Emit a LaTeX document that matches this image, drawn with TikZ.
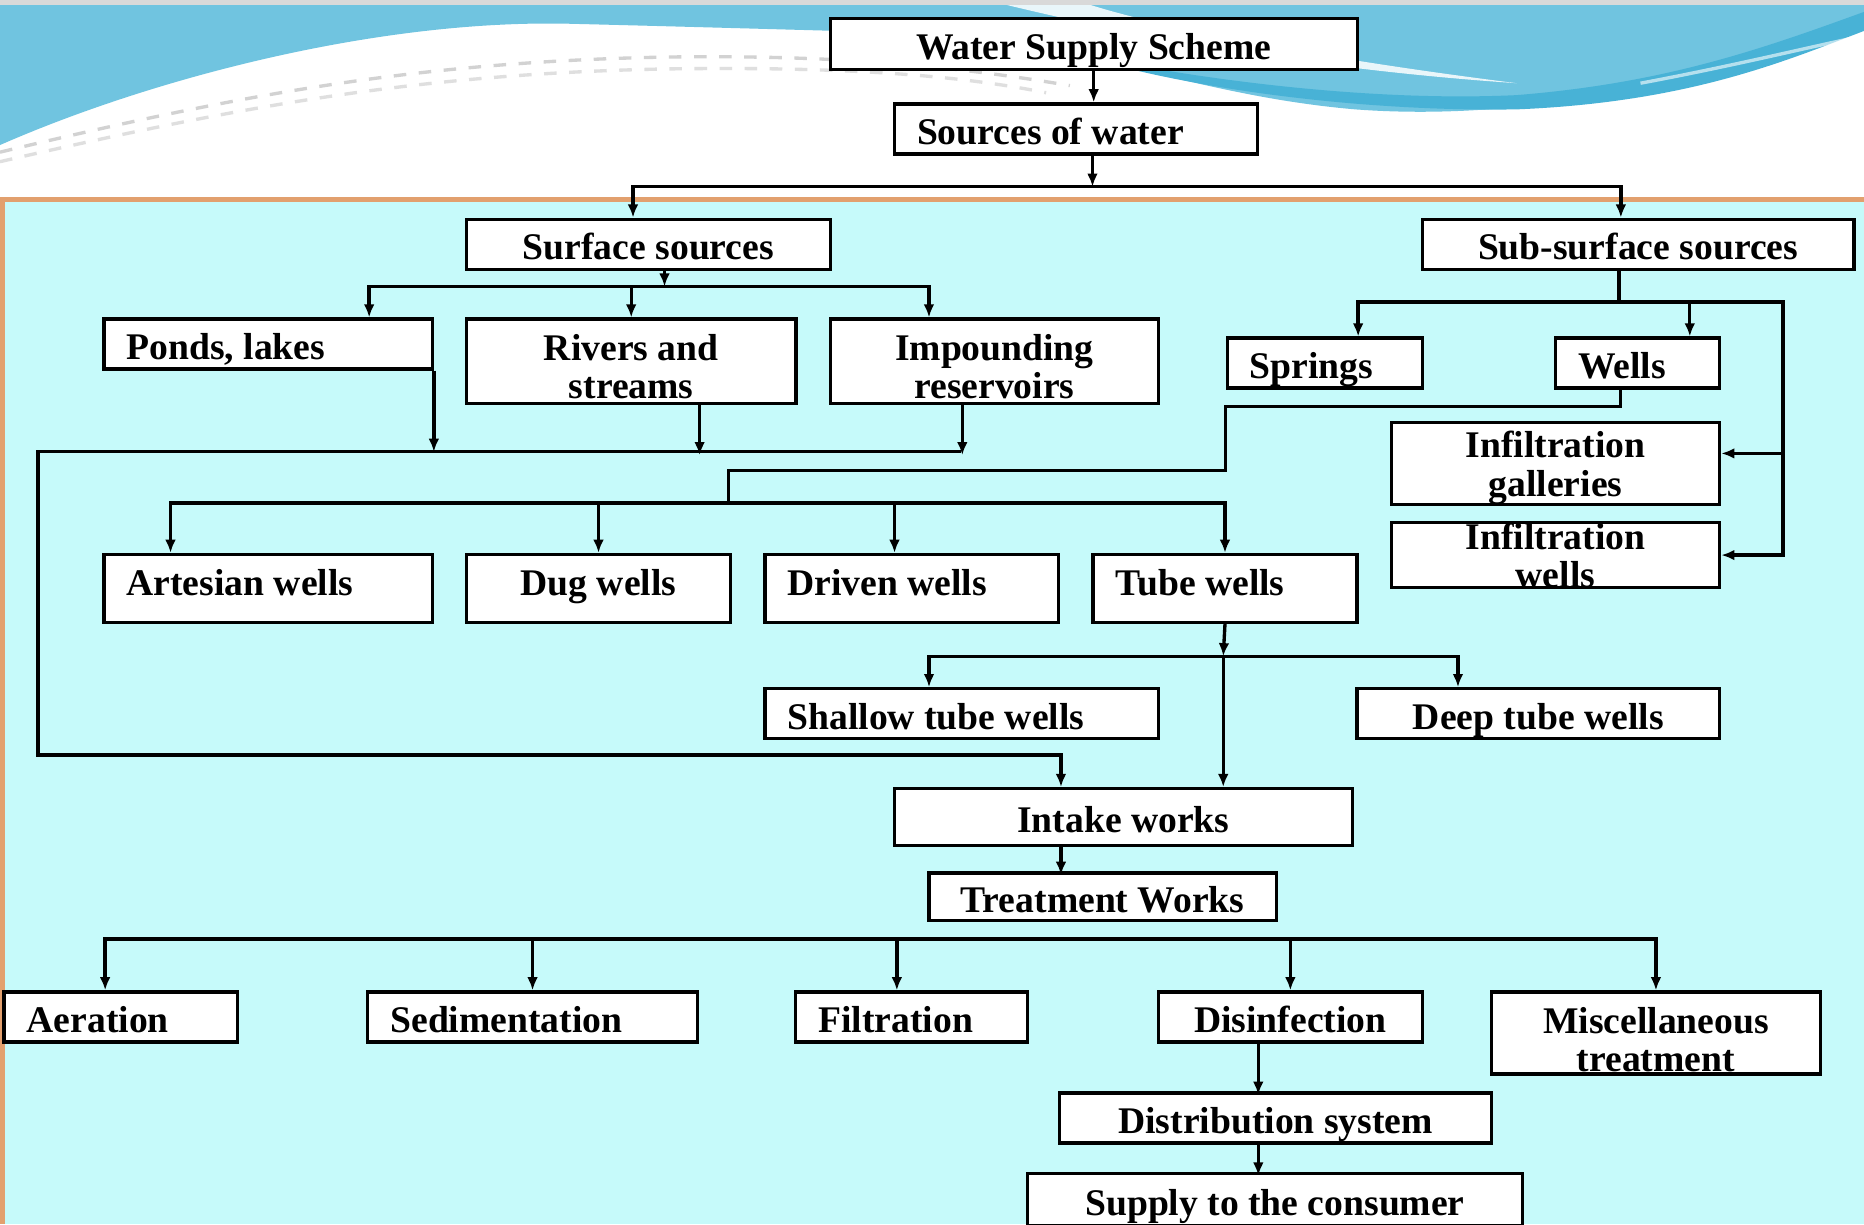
\documentclass[tikz,border=0pt]{standalone}
\usepackage{fontspec}
\setmainfont{Liberation Serif}
\usetikzlibrary{arrows.meta}
\definecolor{panel}{RGB}{198,250,250}
\definecolor{skyblue}{RGB}{112,196,224}
\definecolor{skydark}{RGB}{72,178,214}
\definecolor{rim}{RGB}{226,160,110}

\begin{document}
\begin{tikzpicture}[x=0.01cm, y=-0.01cm, thick, >={Latex[length=1.1mm,width=0.9mm]},
    main/.style = {draw, fill=white, anchor=north west, inner xsep=0.19cm, inner ysep=0pt, align=center, text height=8.4pt, text depth=1pt, font=\bfseries\fontsize{9}{9.2}\selectfont},
    lmain/.style = {main, align=flush left},
    tall/.style = {text height=6pt, text depth=2.8pt}]
    \useasboundingbox (0,0) rectangle (1568,1030);

    % background
    \fill[white] (0,0) rectangle (1568,168);
    \fill[skyblue] (0,0) -- (0,122) .. controls (130,65) and (320,16) .. (480,20) .. controls (600,23) and (700,26) .. (780,28) .. controls (900,32) and (1000,80) .. (1140,92) .. controls (1300,104) and (1450,60) .. (1568,24) -- (1568,0) -- cycle;
    \fill[skydark] (1568,10) .. controls (1480,42) and (1400,70) .. (1276,80) .. controls (1150,86) and (1000,66) .. (900,44) .. controls (1000,76) and (1150,94) .. (1276,92) .. controls (1420,86) and (1500,52) .. (1568,26) -- cycle;
    \fill[white, opacity=0.85] (830,0) .. controls (950,30) and (1100,58) .. (1276,70) .. controls (1100,48) and (960,20) .. (905,0) -- cycle;
    \draw[white, opacity=0.6] (1380,70) .. controls (1460,55) and (1520,40) .. (1568,30);
    \draw[gray!35, dashed] (0,128) .. controls (200,80) and (350,52) .. (560,48) .. controls (700,46) and (800,55) .. (900,72);
    \draw[gray!25, dashed] (0,136) .. controls (200,90) and (350,62) .. (560,58) .. controls (700,56) and (800,62) .. (880,78);
    \fill[gray!30] (0,0) rectangle (1568,4);
    \fill[panel] (0,168) rectangle (1568,1030);
    \draw[rim, line width=1.2pt] (0,168) -- (1568,168);
    \fill[rim] (0,168) rectangle (4,1030);

    % boxes
    \node[main, minimum width=4.43cm, minimum height=0.43cm] (wss) at (697,14) {Water Supply Scheme};
    \node[lmain, text width=2.67cm, minimum height=0.42cm] (src) at (751,86) {Sources of water};
    \node[main, minimum width=3.06cm, minimum height=0.42cm] (surf) at (391,183) {Surface sources};
    \node[main, minimum width=3.63cm, minimum height=0.42cm] (sub) at (1195,183) {Sub-surface sources};
    \node[lmain, text width=2.38cm, minimum height=0.42cm] (ponds) at (86,267) {Ponds, lakes};
    \node[main, minimum width=2.77cm, minimum height=0.71cm, text height=0.67cm, text depth=0.04cm] (rivers) at (391,267) {Rivers and\\streams};
    \node[main, minimum width=2.76cm, minimum height=0.71cm, text height=0.67cm, text depth=0.04cm] (impound) at (697,267) {Impounding\\reservoirs};
    \node[lmain, text width=1.26cm, minimum height=0.42cm] (springs) at (1031,283) {Springs};
    \node[lmain, text width=1.00cm, minimum height=0.42cm] (wells) at (1307,283) {Wells};
    \node[main, minimum width=2.76cm, minimum height=0.69cm, text height=0.62cm, text depth=0.07cm] (galleries) at (1169,354) {Infiltration\\galleries};
    \node[main, minimum width=2.76cm, minimum height=0.55cm, text height=0.55cm, text depth=0cm] (infwells) at (1169,438) {Infiltration\\wells};
    \node[lmain, tall, text width=2.38cm, minimum height=0.57cm] (artesian) at (86,465) {Artesian wells};
    \node[main, tall, minimum width=2.22cm, minimum height=0.57cm] (dug) at (391,465) {Dug wells};
    \node[lmain, tall, text width=2.09cm, minimum height=0.57cm] (driven) at (642,465) {Driven wells};
    \node[lmain, tall, text width=1.84cm, minimum height=0.57cm] (tube) at (918,465) {Tube wells};
    \node[lmain, text width=2.93cm, minimum height=0.42cm] (shallow) at (642,578) {Shallow tube wells};
    \node[main, minimum width=3.05cm, minimum height=0.42cm] (deep) at (1140,578) {Deep tube wells};
    \node[main, minimum width=3.85cm, minimum height=0.48cm] (intake) at (751,662) {Intake works};
    \node[main, minimum width=2.92cm, minimum height=0.40cm] (treat) at (780,733) {Treatment Works};
    \node[lmain, text width=1.58cm, minimum height=0.42cm] (aer) at (2,833) {Aeration};
    \node[lmain, text width=2.39cm, minimum height=0.42cm] (sed) at (308,833) {Sedimentation};
    \node[lmain, text width=1.57cm, minimum height=0.42cm] (filt) at (668,833) {Filtration};
    \node[main, minimum width=2.22cm, minimum height=0.42cm] (dis) at (973,833) {Disinfection};
    \node[main, minimum width=2.77cm, minimum height=0.69cm, text height=0.67cm, text depth=0.02cm] (misc) at (1253,833) {Miscellaneous\\treatment};
    \node[main, minimum width=3.63cm, minimum height=0.42cm] (dist) at (890,918) {Distribution system};
    \node[main, minimum width=4.16cm, minimum height=0.44cm] (supply) at (863,986) {Supply to the consumer};

    % junctions
    \coordinate (j0) at (919,157);
    \coordinate (j1) at (559,241);
    \coordinate (j2) at (808,380);
    \coordinate (j3) at (32,635);
    \coordinate (j4) at (1362,254);
    \coordinate (j5) at (1500,254);
    \coordinate (j6) at (1031,396);
    \coordinate (j7) at (613,423);
    \coordinate (j8) at (1029,552);
    \coordinate (j9) at (926,790);

    % sources
    \draw[->] (wss.south) -- (wss.south |- src.north);
    \draw[->] (src.south -| j0) -- (j0);
    \draw[->] (j0) -| ([xshift=-0.13cm]surf.north);
    \draw[->] (j0) -| ([xshift=-0.145cm]sub.north);

    % surface sources
    \draw[->] (surf.south -| j1) -- (j1);
    \draw[->] (j1) -| ([xshift=0.85cm]ponds.north);
    \draw[->] (j1) -| (rivers.north);
    \draw[->] (j1) -| ([xshift=-0.55cm]impound.north);
    \draw[->] (ponds.south east) -- (ponds.south east |- j2);
    \draw[->] ([xshift=0.575cm]rivers.south) -- ++(0,42);
    \draw[->] ([xshift=-0.27cm]impound.south) -- ++(0,42);
    \draw[->] (j2) -| (j3) -| ([xshift=-0.525cm]intake.north);

    % sub-surface sources
    \draw (sub.south -| j4) -- (j4);
    \draw[->] (j4) -| ([xshift=0.28cm]springs.north);
    \draw[->] (j4) -| ([xshift=0.44cm]wells.north);
    \draw[->] (j4) -- (j5) |- ([yshift=0.085cm]galleries.east);
    \draw[->] (j5) |- (infwells.east);

    % wells
    \draw ([xshift=-0.14cm]wells.south) -- ++(0,14) -| (j6) -| (j7);
    \draw[->] (j7) -| ([xshift=-0.82cm]artesian.north);
    \draw[->] (j7) -| (dug.north);
    \draw[->] (j7) -| ([xshift=-0.145cm]driven.north);
    \draw[->] (j7) -| (tube.north);
    \draw[->] (tube.south) -- (j8);
    \draw[->] (j8) -| ([xshift=-0.275cm]shallow.north);
    \draw[->] (j8) -| ([xshift=-0.675cm]deep.north);
    \draw[->] (j8) -- (j8 |- intake.north);

    % treatment
    \draw[->] ([xshift=-0.525cm]intake.south) -- ++(0,23);
    \draw[->] (j9) -| ([xshift=-0.13cm]aer.north);
    \draw[->] (j9) -| (sed.north);
    \draw[->] (j9) -| ([xshift=-0.125cm]filt.north);
    \draw[->] (j9) -| (dis.north);
    \draw[->] (j9) -| (misc.north);
    \draw[->] ([xshift=-0.27cm]dis.south) -- ++(0,43);
    \draw[->] ([xshift=-0.145cm]dist.south) -- ++(0,26);
\end{tikzpicture}
\end{document}
